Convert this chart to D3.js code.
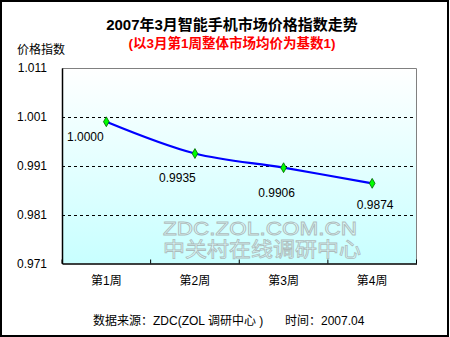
<!DOCTYPE html>
<html><head><meta charset="utf-8">
<script src="https://cdn.jsdelivr.net/npm/d3@7"></script>
<style>
html,body{margin:0;padding:0;background:#fff;}
svg text{font-family:"Liberation Sans",Arial,"Noto Sans CJK SC",sans-serif;}
</style></head>
<body>
<script>
const weeks = ["第1周","第2周","第3周","第4周"];
const values = [1.0000, 0.9935, 0.9906, 0.9874];
const valueLabels = ["1.0000","0.9935","0.9906","0.9874"];
const yTicks = [0.971, 0.981, 0.991, 1.001, 1.011];
const gridValues = [0.981, 0.991, 1.001];
const title = "2007年3月智能手机市场价格指数走势";
const subtitle = "(以3月第1周整体市场均价为基数1)";
const yAxisTitle = "价格指数";
const sourceText = "数据来源：ZDC(ZOL 调研中心 )";
const timeText = "时间：2007.04";
const watermark = ["ZDC.ZOL.COM.CN", "中关村在线调研中心"];

const W = 450, H = 337;
const L = 62, T = 68, R = 416.5, B = 263.5;
const labelOffsets = [[-21,15],[-17.5,24],[-7,25],[3,21]];

const svg = d3.select("body").append("svg").attr("width", W).attr("height", H);
const defs = svg.append("defs");
const grad = defs.append("linearGradient").attr("id","bg").attr("x1",0).attr("y1",0).attr("x2",0).attr("y2",1);
grad.append("stop").attr("offset","0%").attr("stop-color","#ffffff");
grad.append("stop").attr("offset","100%").attr("stop-color","#c8ffff");

svg.append("rect").attr("x",0).attr("y",0).attr("width",W).attr("height",H).attr("fill","#fff");
svg.append("rect").attr("x",1).attr("y",1).attr("width",447).attr("height",335)
  .attr("fill","none").attr("stroke","#000").attr("stroke-width",2);

const x = d3.scaleBand().domain(weeks).range([L, R]).padding(0);
const y = d3.scaleLinear().domain([0.971, 1.011]).range([B, T]);

// plot background
svg.append("rect").attr("x",L).attr("y",T).attr("width",R-L).attr("height",B-T).attr("fill","url(#bg)");

// watermark
const wm = svg.append("g").attr("fill","rgba(255,255,255,0.35)").attr("stroke","#aebcbc").attr("stroke-width",0.8);
wm.append("text").attr("x",260).attr("y",234.5).attr("text-anchor","middle").attr("font-size",18)
  .attr("textLength",194).attr("lengthAdjust","spacingAndGlyphs").text(watermark[0]);
wm.append("text").attr("x",262).attr("y",257).attr("text-anchor","middle").attr("font-size",20)
  .attr("font-family","Noto Sans CJK SC").attr("textLength",198).attr("lengthAdjust","spacingAndGlyphs").text(watermark[1]);

// gridlines
svg.append("g").selectAll("line").data(gridValues).join("line")
  .attr("x1",L).attr("x2",R).attr("y1",d=>Math.round(y(d))+0.5).attr("y2",d=>Math.round(y(d))+0.5)
  .attr("stroke","#000").attr("stroke-width",1).attr("stroke-dasharray","3,3");

// top/right frame
svg.append("path").attr("d",`M${L},${T+0.5}H${R}V${B}`).attr("fill","none").attr("stroke","#808080").attr("stroke-width",1);

// y axis
const yAxis = d3.axisLeft(y).tickValues(yTicks).tickSize(0).tickPadding(15).tickFormat(d3.format(".3f"));
const gy = svg.append("g").attr("transform",`translate(${L},0)`).call(yAxis);
gy.select(".domain").attr("stroke","#000").attr("stroke-width",1.5);
gy.selectAll("text").attr("font-size",12).attr("fill","#000");

// x axis
const xAxis = d3.axisBottom(x).tickSize(0).tickPadding(13);
const gx = svg.append("g").attr("transform",`translate(0,${B})`).call(xAxis);
gx.select(".domain").attr("stroke","#000").attr("stroke-width",1.5);
gx.selectAll("text").attr("font-size",12).attr("fill","#000");
const bounds = weeks.map(w=>x(w)).concat([x(weeks[weeks.length-1])+x.bandwidth()]);
gx.append("g").selectAll("line").data(bounds).join("line")
  .attr("x1",d=>d).attr("x2",d=>d).attr("y1",0).attr("y2",-4).attr("stroke","#000").attr("stroke-width",1);

// line
const line = d3.line().x((d,i)=>x(weeks[i])+x.bandwidth()/2).y(d=>y(d)).curve(d3.curveCatmullRom.alpha(0.5));
svg.append("path").datum(values).attr("d",line).attr("fill","none").attr("stroke","#0000ff").attr("stroke-width",2.2);

// markers
svg.append("g").selectAll("path").data(values).join("path")
  .attr("transform",(d,i)=>`translate(${x(weeks[i])+x.bandwidth()/2},${y(d)})`)
  .attr("d",d3.symbol(d3.symbolDiamond,28))
  .attr("fill","#00ff00").attr("stroke","#006000").attr("stroke-width",0.8);

// data labels
svg.append("g").selectAll("text").data(values).join("text")
  .attr("x",(d,i)=>x(weeks[i])+x.bandwidth()/2+labelOffsets[i][0])
  .attr("y",(d,i)=>y(d)+labelOffsets[i][1])
  .attr("dy","0.35em").attr("text-anchor","middle").attr("font-size",12).attr("fill","#000")
  .text((d,i)=>valueLabels[i]);

// titles
svg.append("text").attr("x",232).attr("y",25).attr("dy","0.35em").attr("text-anchor","middle")
  .attr("font-size",15).attr("font-weight","bold").attr("fill","#000").text(title);
svg.append("text").attr("x",232).attr("y",43).attr("dy","0.35em").attr("text-anchor","middle")
  .attr("font-size",13.5).attr("font-weight","bold").attr("fill","#ff0000").text(subtitle);
svg.append("text").attr("x",17).attr("y",50).attr("dy","0.35em")
  .attr("font-size",12).attr("fill","#000").text(yAxisTitle);

// footer
svg.append("text").attr("x",93).attr("y",321).attr("dy","0.35em").attr("font-size",12).attr("fill","#000").text(sourceText);
svg.append("text").attr("x",285).attr("y",321).attr("dy","0.35em").attr("font-size",12).attr("fill","#000").text(timeText);
</script>
</body></html>
